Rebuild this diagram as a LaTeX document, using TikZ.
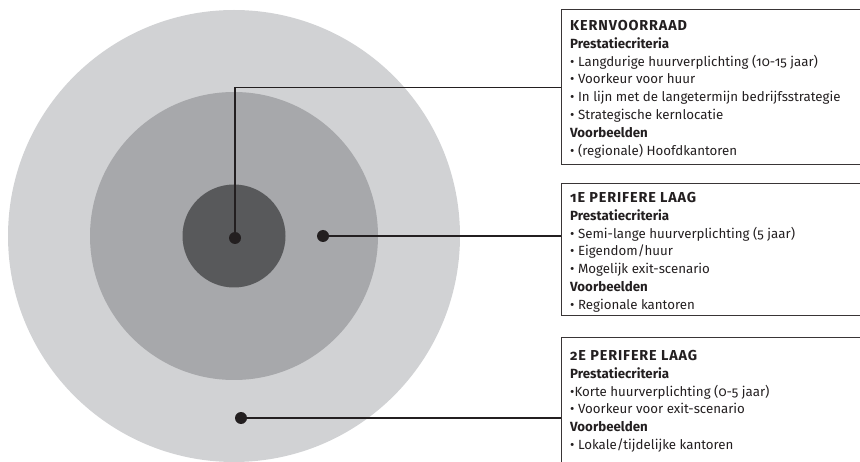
\documentclass[tikz,border=0pt]{standalone}
\usepackage{fontspec}
\setmainfont{Fira Sans}[Numbers=OldStyle]
\usetikzlibrary{positioning}
\definecolor{ringout}{HTML}{D1D2D4}
\definecolor{ringmid}{HTML}{A7A8AB}
\definecolor{ringcore}{HTML}{58595B}
\definecolor{inkdark}{HTML}{231F20}
\newcommand{\laagtitel}[1]{{\fontsize{14.4}{17.8}\selectfont\addfontfeatures{LetterSpace=6}\bfseries #1}}

\begin{document}
\begin{tikzpicture}[x=1pt,y=1pt]
  \tikzset{
    ring/.style={circle, inner sep=0pt},
    dot/.style={circle, fill=inkdark, inner sep=0pt, minimum size=12pt},
    kader/.style={draw=inkdark!90, line width=1.3pt, anchor=north west,
      minimum width=330pt, inner sep=0pt},
    tekst/.style={anchor=north west, align=left, text=inkdark, inner sep=0pt,
      font=\fontsize{13.3}{17.8}\selectfont},
    lijn/.style={draw=inkdark, line width=1.2pt},
  }
  \useasboundingbox (0,0) rectangle (860,461);
  \clip (0,0) rectangle (860,461);

  \node[ring, fill=ringout, minimum size=452pt] (buiten) at (234,225) {};
  \node[ring, fill=ringmid, minimum size=288pt] (midden) at (234,225) {};
  \node[ring, fill=ringcore, minimum size=103pt] (kern) at (234,225) {};

  \node[dot] (dotkern) at (235,223) {};
  \node[dot] (dotlaag1) at (323,225) {};
  \node[dot] (dotlaag2) at (241,43) {};

  \node[kader, minimum height=155pt] (kaderkern) at (561,452) {};
  \node[kader, minimum height=132pt] (kaderlaag1) at (561,278) {};
  \node[kader, minimum height=160pt] (kaderlaag2) at (561,124) {};

  \node[tekst] (tekstkern) at (570,441) {\laagtitel{KERNVOORRAAD}\\
    \textbf{Prestatiecriteria}\\
    • Langdurige huurverplichting (10-15 jaar)\\
    • Voorkeur voor huur\\
    • In lijn met de langetermijn bedrijfsstrategie\\
    • Strategische kernlocatie\\
    \textbf{Voorbeelden}\\
    • (regionale) Hoofdkantoren};
  \node[tekst] (tekstlaag1) at (570,269) {\laagtitel{1E PERIFERE LAAG}\\
    \textbf{Prestatiecriteria}\\
    • Semi-lange huurverplichting (5 jaar)\\
    • Eigendom/huur\\
    • Mogelijk exit-scenario\\
    \textbf{Voorbeelden}\\
    • Regionale kantoren};
  \node[tekst] (tekstlaag2) at (570,111) {\laagtitel{2E PERIFERE LAAG}\\
    \textbf{Prestatiecriteria}\\
    •Korte huurverplichting (0-5 jaar)\\
    • Voorkeur voor exit-scenario\\
    \textbf{Voorbeelden}\\
    • Lokale/tijdelijke kantoren};

  \draw[lijn] (dotkern.center) |- (kaderkern.west);
  \draw[lijn] (dotlaag1.center) -- (dotlaag1 -| kaderlaag1.west);
  \draw[lijn] (dotlaag2.center) -- (dotlaag2 -| kaderlaag2.west);
\end{tikzpicture}
\end{document}
